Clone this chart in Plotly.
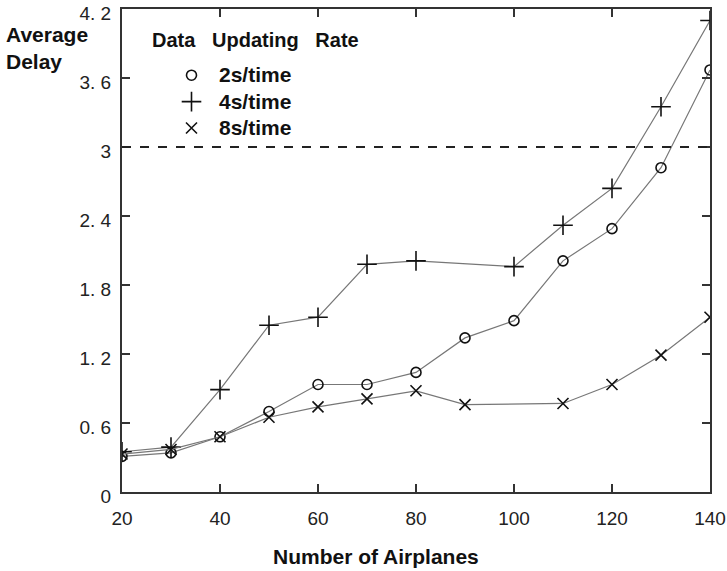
import plotly.graph_objects as go

x_2s = [20, 30, 40, 50, 60, 70, 80, 90, 100, 110, 120, 130, 140]
y_2s = [0.31, 0.34, 0.48, 0.70, 0.935, 0.935, 1.04, 1.34, 1.49, 2.01, 2.29, 2.82, 3.67]

x_4s = [20, 30, 40, 50, 60, 70, 80, 100, 110, 120, 130, 140]
y_4s = [0.35, 0.39, 0.89, 1.45, 1.52, 1.98, 2.01, 1.96, 2.32, 2.64, 3.35, 4.10]

x_8s = [20, 30, 40, 50, 60, 70, 80, 90, 110, 120, 130, 140]
y_8s = [0.33, 0.37, 0.48, 0.65, 0.74, 0.81, 0.88, 0.76, 0.77, 0.935, 1.19, 1.52]

threshold = 3.0
x_ticks = [20, 40, 60, 80, 100, 120, 140]
y_ticks = [0, 0.6, 1.2, 1.8, 2.4, 3.0, 3.6, 4.2]
y_tick_text = ["0", "0. 6", "1. 2", "1. 8", "2. 4", "3", "3. 6", "4. 2"]

labels = ["2s/time", "4s/time", "8s/time"]
symbols = ["circle-open", "cross-thin-open", "x-thin-open"]
sizes = [10, 14, 11]

FONT = "Liberation Sans, Arial, sans-serif"

fig = go.Figure()
for xs, ys, sym, sz in zip([x_2s, x_4s, x_8s], [y_2s, y_4s, y_8s], symbols, sizes):
    fig.add_trace(go.Scatter(
        x=xs, y=ys, mode="lines+markers", showlegend=False,
        line=dict(color="#777777", width=1.2),
        marker=dict(symbol=sym, size=sz, color="#111111", line=dict(width=1.6, color="#111111")),
    ))
for name, sym, sz in zip(labels, symbols, sizes):
    fig.add_trace(go.Scatter(
        x=[None], y=[None], mode="markers",
        name='<span style="font-size:21px"><b>' + name + '</b></span>',
        marker=dict(symbol=sym, size=sz, color="#111111", line=dict(width=1.6, color="#111111")),
    ))

fig.add_shape(type="line", xref="paper", x0=0, x1=1, yref="y", y0=threshold, y1=threshold,
              line=dict(color="#222222", width=2, dash="dash"))

axis_common = dict(
    showgrid=False, zeroline=False, showline=True, linecolor="#333333", linewidth=2,
    ticks="inside", ticklen=8, tickwidth=1.5, tickcolor="#333333", mirror="ticks",
    tickfont=dict(family=FONT, size=19, color="#222222"),
    automargin=False, ticklabeloverflow="allow",
)

fig.update_xaxes(range=[20, 140], tickvals=x_ticks, ticklabelstandoff=8, **axis_common)
fig.update_yaxes(range=[0, 4.2], tickvals=y_ticks, ticktext=y_tick_text,
                 ticklabelstandoff=5, ticklabelshift=4, **axis_common)

L, T, B = 122, 9, 492
W_PLOT, H_PLOT = 710 - L, B - T


def px(xp):
    return (xp - L) / W_PLOT


def py(yp):
    return (B - yp) / H_PLOT


bold = dict(family=FONT, size=21, color="#111111")

fig.add_annotation(xref="paper", yref="paper", x=px(4), y=py(21), xanchor="left", yanchor="top",
                   text="<b>Average<br>Delay</b>", showarrow=False, align="left", font=bold)
fig.add_annotation(xref="paper", yref="paper", x=px(376), y=py(556), xanchor="center", yanchor="middle",
                   text="<b>Number of Airplanes</b>", showarrow=False, font=bold)
fig.add_annotation(xref="paper", yref="paper", x=px(150), y=py(40), xanchor="left", yanchor="middle",
                   text="<b>Data   Updating   Rate</b>", showarrow=False,
                   font=dict(family=FONT, size=20, color="#111111"))

fig.update_layout(
    width=727, height=571,
    margin=dict(l=L, r=727 - 710, t=T, b=571 - B, autoexpand=False),
    paper_bgcolor="white", plot_bgcolor="white",
    legend=dict(
        x=px(164), y=py(57), xanchor="left", yanchor="top",
        bgcolor="rgba(0,0,0,0)",
        font=dict(family=FONT, size=18, color="#111111"),
        itemwidth=45, tracegroupgap=0,
    ),
)

fig.write_html("out.html", post_script="document.body.style.margin='0';",
               config={"displayModeBar": False})
